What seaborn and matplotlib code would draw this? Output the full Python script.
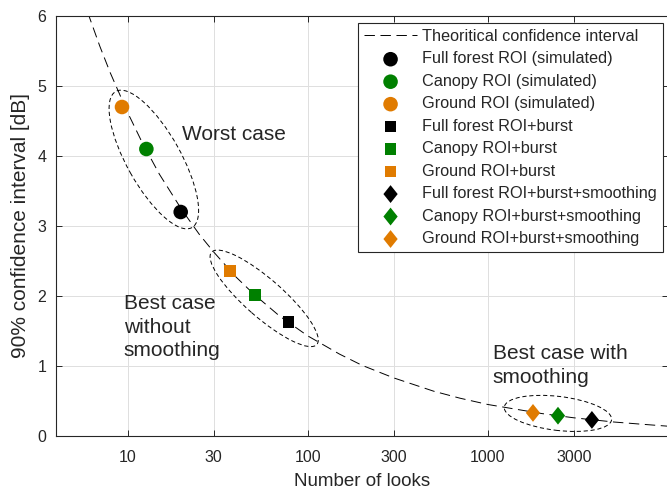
import numpy as np
import pandas as pd
import matplotlib
matplotlib.use('Agg')
import matplotlib.pyplot as plt
import seaborn as sns
from matplotlib.patches import Ellipse
from matplotlib.transforms import IdentityTransform

# ---------------------------------------------------------------------------
# data
# ---------------------------------------------------------------------------
theory_looks = [6, 7, 8, 10, 12, 15, 20, 25, 30, 40, 50, 70, 100, 150, 200,
                300, 500, 700, 1000, 2000, 3000, 5000, 7000, 10000]
theory_ci = [6.05, 5.57, 5.19, 4.62, 4.20, 3.74, 3.23, 2.88, 2.63, 2.27, 2.03,
             1.71, 1.43, 1.17, 1.01, 0.83, 0.64, 0.54, 0.45, 0.32, 0.26, 0.20,
             0.17, 0.14]

rois = ['Full forest', 'Canopy', 'Ground']

sim_looks = [19.7, 12.7, 9.3]
sim_ci = [3.20, 4.10, 4.70]

burst_looks = [78, 51, 37]
burst_ci = [1.63, 2.01, 2.36]

smooth_looks = [3780, 2450, 1780]
smooth_ci = [0.23, 0.29, 0.33]

methods = [' (simulated)', '+burst', '+burst+smoothing']
xticks = [10, 30, 100, 300, 1000, 3000]

# ---------------------------------------------------------------------------
# style
# ---------------------------------------------------------------------------
sns.set_style('ticks')
plt.rcParams['font.family'] = ['Liberation Sans', 'DejaVu Sans']
plt.rcParams['lines.scale_dashes'] = False
axis_col = '#262626'
roi_colors = {'Full forest': 'black', 'Canopy': '#008000', 'Ground': '#E07B00'}
diamond = [(0, 1), (0.8, 0), (0, -1), (-0.8, 0), (0, 1)]
method_markers = {' (simulated)': ('o', 110), '+burst': ('s', 70),
                  '+burst+smoothing': (diamond, 165)}

fig = plt.figure(figsize=(6.67, 4.91), dpi=100)
ax = fig.add_axes([56 / 667, 55 / 491, 612 / 667, 420 / 491])
ax.set_xscale('log')
ax.set_xlim(4, 10000)
ax.set_ylim(0, 6)

# theoretical curve
sns.lineplot(x=theory_looks, y=theory_ci, ax=ax, color='black', lw=0.7,
             dashes=False, label='Theoritical confidence interval', sort=False)
ax.lines[-1].set_linestyle((0, (7.5, 4)))

groups = [(sim_looks, sim_ci), (burst_looks, burst_ci), (smooth_looks, smooth_ci)]
for method, (lk, ci) in zip(methods, groups):
    mk, size = method_markers[method]
    for roi, n, c in zip(rois, lk, ci):
        sns.scatterplot(x=[n], y=[c], ax=ax, marker=mk, s=size,
                        color=roi_colors[roi], edgecolor='none',
                        label=roi + ' ROI' + method, zorder=5)

# ellipses around groups (pixel semi-axes, pixel offsets)
ell_style = [(78, 27, (2.5, 0)), (70, 19, (5, -2)), (54, 17, (-4.5, 3))]
for (lk, ci), (a, b, off) in zip(groups, ell_style):
    pts = ax.transData.transform(np.column_stack([lk, ci]))
    p0, p1 = pts[-1], pts[0]
    c = (p0 + p1) / 2 + np.array(off)
    ang = np.degrees(np.arctan2(p1[1] - p0[1], p1[0] - p0[0]))
    ax.add_patch(Ellipse(c, 2 * a, 2 * b, angle=ang, transform=IdentityTransform(),
                         fill=False, ec='black', lw=0.7, ls=(0, (3, 2)), zorder=4))

# annotations
ax.text(20, 4.3, 'Worst case', fontsize=15, va='center', ha='left')
ax.text(9.5, 1.557, 'Best case\nwithout\nsmoothing', fontsize=15,
        va='center', ha='left', linespacing=1.32)
ax.text(1066, 1.007, 'Best case with\nsmoothing', fontsize=15,
        va='center', ha='left', linespacing=1.32)

# axes
ax.set_xticks(xticks)
ax.set_xticklabels([str(t) for t in xticks])
ax.minorticks_off()
ax.set_yticks(range(0, 7))
ax.grid(True, color='#dfdfdf', lw=0.7)
ax.set_axisbelow(True)
ax.tick_params(direction='in', top=True, right=True, length=4, width=0.7,
               colors=axis_col, labelsize=11.5)
ax.tick_params(axis='x', pad=10)
ax.tick_params(axis='y', pad=7)
for sp in ax.spines.values():
    sp.set_visible(True)
    sp.set_color(axis_col)
    sp.set_linewidth(0.8)
ax.set_xlabel('Number of looks', fontsize=13.5, color=axis_col, labelpad=6)
ax.set_ylabel('90% confidence interval [dB]', fontsize=15, color=axis_col, labelpad=5)

leg = ax.legend(loc='upper right', bbox_to_anchor=((663 - 56) / 612, (436 - 23) / 420),
                fontsize=11.7, frameon=True, fancybox=False, framealpha=1,
                edgecolor=axis_col, borderpad=0.37, labelspacing=0.46,
                handlelength=3.3, handletextpad=0.3, borderaxespad=0)
leg.get_frame().set_linewidth(0.8)

fig.savefig('out.png', dpi=100)
